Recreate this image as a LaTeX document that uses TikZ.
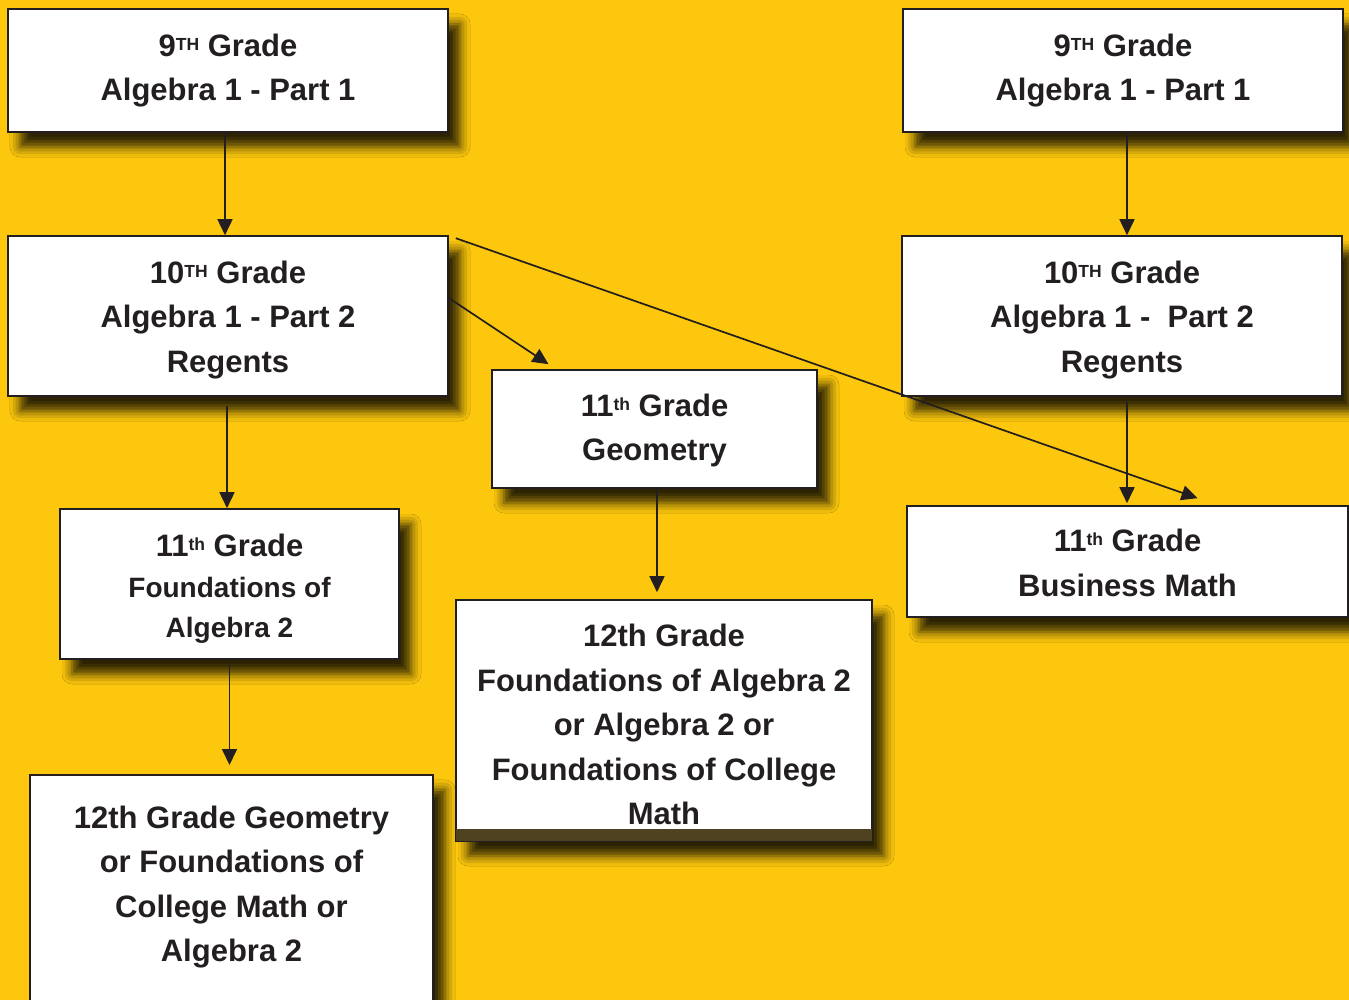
\documentclass[tikz,border=0pt]{standalone}
\usepackage{fontspec}
\setmainfont{Liberation Sans}
\usetikzlibrary{arrows.meta,shadows.blur}

\definecolor{bgyellow}{HTML}{FCC70D}
\definecolor{inkdark}{HTML}{231F20}
\definecolor{stripbrown}{HTML}{4F4220}
\newcommand\gradesup[1]{\raisebox{6pt}{\fontsize{17.5pt}{17.5pt}\selectfont #1}}
\newcommand\lowerby[1]{\rule{0pt}{#1}}

\begin{document}
\begin{tikzpicture}[
    x=1pt, y=-1pt,
    box/.style={rectangle, draw=inkdark, line width=1.6pt, fill=white, text=inkdark,
      align=center, inner sep=0pt, font=\fontsize{31pt}{44.5pt}\selectfont\bfseries,
      blur shadow={shadow xshift=12pt, shadow yshift=-15pt, shadow blur radius=10pt, shadow opacity=82}},
    arrow/.style={-{Triangle[length=16pt,width=15pt]}, line width=1.7pt, draw=inkdark}
  ]
    \fill[bgyellow] (0,0) rectangle (1349,1000);
    \useasboundingbox (0,0) rectangle (1349,1000);

    % Left column
    \node[box, minimum width=440pt, minimum height=123pt] (a1) at (228,70.5)
      {9\gradesup{TH} Grade\\Algebra 1 - Part 1};
    \node[box, minimum width=440pt, minimum height=160pt] (a2) at (228,316)
      {\lowerby{29.6pt}10\gradesup{TH} Grade\\Algebra 1 - Part 2\\Regents};
    \node[box, minimum width=339pt, minimum height=150pt, font=\fontsize{28pt}{40.5pt}\selectfont\bfseries] (a3) at (229.5,584)
      {\lowerby{32pt}{\fontsize{31pt}{40.5pt}\selectfont 11\gradesup{th} Grade}\\Foundations of\\Algebra 2};
    \node[box, minimum width=403pt, anchor=north, inner ysep=31pt, text depth=60pt] (a4) at (231.5,774)
      {12th Grade Geometry\\or Foundations of\\College Math or\\Algebra 2};

    % Middle column
    \node[box, minimum width=325pt, minimum height=118pt] (b1) at (654.5,429)
      {\lowerby{25pt}11\gradesup{th} Grade\\Geometry};
    \node[box, minimum width=416pt, minimum height=241pt] (b2) at (664,720.5)
      {\lowerby{30.6pt}12th Grade\\Foundations of Algebra 2\\or Algebra 2 or\\Foundations of College\\Math};
    \fill[stripbrown] ([xshift=1pt,yshift=13pt]b2.south west) rectangle ([xshift=-1pt,yshift=1pt]b2.south east);

    % Right column
    \node[box, minimum width=440pt, minimum height=123pt] (r1) at (1123,70.5)
      {9\gradesup{TH} Grade\\Algebra 1 - Part 1};
    \node[box, minimum width=440pt, minimum height=160pt] (r2) at (1122,316)
      {\lowerby{29.6pt}10\gradesup{TH} Grade\\Algebra 1 -\ \ Part 2\\Regents};
    \node[box, minimum width=441pt, minimum height=111pt] (r3) at (1127.5,561.5)
      {\lowerby{25pt}11\gradesup{th} Grade\\Business Math};

    % Arrows
    \draw[arrow] ([xshift=-3pt]a1.south) -- ([xshift=-3pt]a1.south |- a2.north);
    \draw[arrow, shorten <=9pt] ([xshift=-1pt]a2.south) -- ([xshift=-1pt]a2.south |- a3.north);
    \draw[arrow, shorten >=9pt] (a3.south) -- (a3.south |- a4.north);
    \draw[arrow, shorten >=7pt] ([xshift=2.5pt]b1.south) -- ([xshift=2.5pt]b1.south |- b2.north);
    \draw[arrow] ([xshift=4pt]r1.south) -- ([xshift=4pt]r1.south |- r2.north);
    \draw[arrow, shorten <=5pt, shorten >=2pt] ([xshift=5pt]r2.south) -- ([xshift=5pt]r2.south |- r3.north);
    \draw[arrow] ([yshift=18pt]a2.east) -- ([xshift=-106pt,yshift=5pt]b1.north);
    \draw[arrow] ([xshift=7pt,yshift=-3pt]a2.north east) -- ([xshift=70pt,yshift=7pt]r3.north);
\end{tikzpicture}
\end{document}
